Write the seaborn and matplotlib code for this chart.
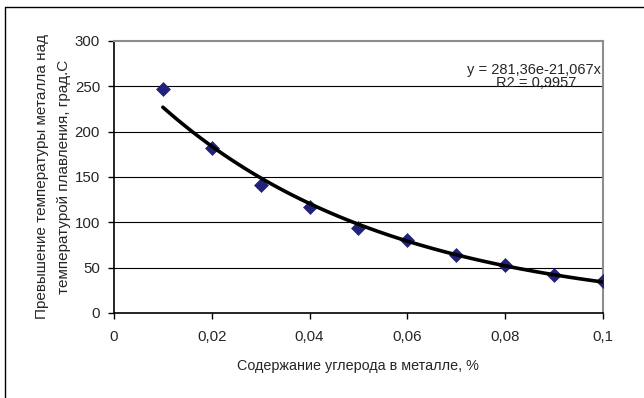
import numpy as np
import pandas as pd
import matplotlib
matplotlib.use("Agg")
import matplotlib.pyplot as plt
import seaborn as sns
from matplotlib.lines import Line2D

carbon = [0.01, 0.02, 0.03, 0.04, 0.05, 0.06, 0.07, 0.08, 0.09, 0.10]
overheat = [247, 182, 141, 117, 94, 81, 64, 53, 42, 35]
x_ticks = [0, 0.02, 0.04, 0.06, 0.08, 0.1]
x_tick_labels = ["0", "0,02", "0,04", "0,06", "0,08", "0,1"]
y_ticks = [0, 50, 100, 150, 200, 250, 300]
eq_text = "y = 281,36e-21,067x"
r2_text = "R2 = 0,9957"

sns.set_theme(style="white")
plt.rcParams['font.family'] = ['Liberation Sans', 'DejaVu Sans']

df = pd.DataFrame({"x": carbon, "y": overheat})

# exponential trendline fitted to the data (as the spreadsheet does)
b, ln_a = np.polyfit(df["x"], np.log(df["y"]), 1)
xs = np.linspace(min(carbon), max(carbon), 100)
trend = pd.DataFrame({"x": xs, "y": np.exp(ln_a) * np.exp(b * xs)})

fig = plt.figure(figsize=(6.44, 3.98), dpi=100)
ax = fig.add_axes([0.177, 0.2136, 0.759, 0.6834])

for v in y_ticks[1:-1]:
    ax.axhline(v, color="black", lw=0.8, zorder=1)

sns.scatterplot(data=df, x="x", y="y", marker="D", s=50, color="#22227a",
                edgecolor="#22227a", linewidth=0.5, ax=ax, zorder=3)
sns.lineplot(data=trend, x="x", y="y", color="black", lw=2.6, ax=ax, zorder=4)

ax.set_xlim(0, 0.1)
ax.set_ylim(0, 300)
ax.set_xticks(x_ticks)
ax.set_xticklabels(x_tick_labels)
ax.set_yticks(y_ticks)
ax.tick_params(axis="both", labelsize=10.8, length=4, width=1, direction="out",
               color="black", left=True, bottom=True, pad=6)
ax.tick_params(axis="x", pad=8)

for side in ["left", "bottom"]:
    ax.spines[side].set_color("black")
    ax.spines[side].set_linewidth(1.2)
for side in ["top", "right"]:
    ax.spines[side].set_color("#8c8c8c")
    ax.spines[side].set_linewidth(1.5)

ax.set_xlabel("Содержание углерода в металле, %", fontsize=10.4, labelpad=11)
ax.set_ylabel("Превышение температуры металла над\nтемпературой плавления, град.С",
              fontsize=11, labelpad=3, linespacing=1.65)

ax.text(0.0997, 268, eq_text, ha="right", va="center", fontsize=10.5, zorder=5)
ax.text(0.0863, 253.5, r2_text, ha="center", va="center", fontsize=10.5, zorder=5)

# chart-area frame (only the left and top edges are inside the picture)
fig.lines.append(Line2D([4.5 / 644, 4.5 / 644, 1.0], [0.0, 1 - 6.5 / 398, 1 - 6.5 / 398],
                        transform=fig.transFigure, color="black", lw=1))

fig.savefig("out.png", dpi=100)
